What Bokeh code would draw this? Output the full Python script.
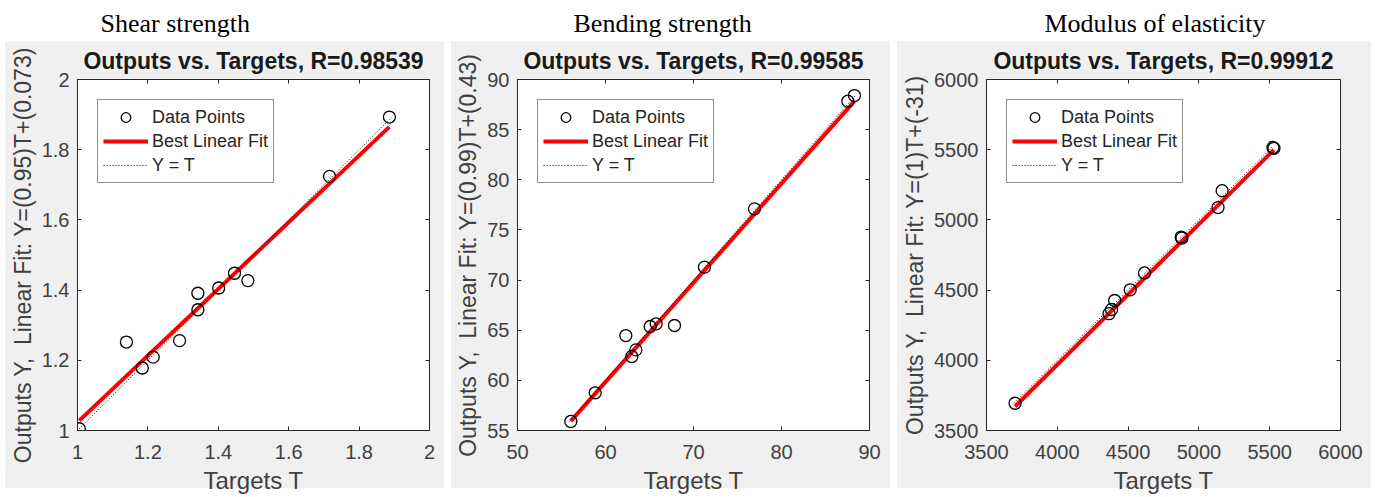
from bokeh.plotting import figure
from bokeh.models import Range1d, FixedTicker, LinearAxis, Legend, LegendItem, Spacer, Title
from bokeh.layouts import row
from bokeh.embed import file_html
from bokeh.resources import INLINE

# ---------------- data ----------------
panel_names = ["Shear strength", "Bending strength", "Modulus of elasticity"]
r_values = ["0.98539", "0.99585", "0.99912"]
fit_labels = ["Y=(0.95)T+(0.073)", "Y=(0.99)T+(0.43)", "Y=(1)T+(-31)"]
x_label = "Targets T"

shear_t = [1.005, 1.139, 1.184, 1.215, 1.290, 1.342, 1.342, 1.401, 1.446, 1.484, 1.716, 1.886]
shear_y = [1.005, 1.252, 1.178, 1.209, 1.256, 1.391, 1.344, 1.406, 1.448, 1.427, 1.724, 1.893]
shear_fit_t = [1.005, 1.886]
shear_fit_y = [1.028, 1.865]
shear_ticks = [1.0, 1.2, 1.4, 1.6, 1.8, 2.0]
shear_tick_labels = ["1", "1.2", "1.4", "1.6", "1.8", "2"]

bend_t = [56.06, 58.83, 62.31, 62.99, 63.45, 65.08, 65.76, 67.84, 71.25, 76.93, 87.54, 88.29]
bend_y = [55.90, 58.76, 64.47, 62.38, 63.04, 65.37, 65.64, 65.47, 71.29, 77.10, 87.84, 88.40]
bend_fit_t = [56.06, 88.29]
bend_fit_y = [55.93, 87.84]
bend_xticks = [50, 60, 70, 80, 90]
bend_xtick_labels = ["50", "60", "70", "80", "90"]
bend_yticks = [55, 60, 65, 70, 75, 80, 85, 90]
bend_ytick_labels = ["55", "60", "65", "70", "75", "80", "85", "90"]

moe_t = [3702, 4365, 4383, 4405, 4515, 4616, 4875, 4880, 5135, 5164, 5523, 5530]
moe_y = [3694, 4332, 4362, 4426, 4502, 4622, 4878, 4870, 5088, 5208, 5516, 5510]
moe_fit_t = [3702, 5530]
moe_fit_y = [3671, 5499]
moe_ticks = [3500, 4000, 4500, 5000, 5500, 6000]
moe_tick_labels = ["3500", "4000", "4500", "5000", "5500", "6000"]

AX = "#262626"
SANS = "Liberation Sans"
BG = ("linear-gradient(to bottom, #ffffff 0px, #ffffff 41px, #f0f0f0 41px, "
      "#f0f0f0 488px, #ffffff 488px, #ffffff 497px)")


def make_panel(w, borders, name_offset, xr, yr, xticks, xlabels, yticks, ylabels,
               t, y, fit_t, fit_y, name, r, fit_label):
    left, right, top, bottom = borders
    p = figure(width=w, height=497, x_range=Range1d(*xr), y_range=Range1d(*yr),
               output_backend="svg", toolbar_location=None, tools="",
               min_border_left=left, min_border_right=right,
               min_border_top=top, min_border_bottom=bottom,
               background_fill_color="white", border_fill_color=None,
               outline_line_color=AX, outline_line_width=1)
    p.styles = {"background": BG}
    p.grid.visible = False

    xa = p.xaxis[0]
    xa.ticker = FixedTicker(ticks=xticks)
    xa.major_label_overrides = {float(k): v for k, v in zip(xticks, xlabels)}
    xa.axis_label = x_label
    ya = p.yaxis[0]
    ya.ticker = FixedTicker(ticks=yticks)
    ya.major_label_overrides = {float(k): v for k, v in zip(yticks, ylabels)}
    ya.axis_label = "Outputs Y,\u00a0 Linear Fit: " + fit_label
    for a in (xa, ya):
        a.minor_tick_line_color = None
        a.major_tick_in = 4
        a.major_tick_out = 0
        a.axis_line_color = AX
        a.major_tick_line_color = AX
        a.major_label_text_font = SANS
        a.major_label_text_font_size = "20px"
        a.major_label_text_color = "#404040"
        a.axis_label_text_font = SANS
        a.axis_label_text_font_style = "normal"
        a.axis_label_text_color = "#404040"
    xa.axis_label_text_font_size = "24px"
    ya.axis_label_text_font_size = "23px"
    xa.major_label_standoff = 14
    xa.axis_label_standoff = 5
    ya.major_label_standoff = 8
    ya.axis_label_standoff = 3

    for side, tk in (("right", yticks), ("above", xticks)):
        ax = LinearAxis(ticker=FixedTicker(ticks=tk), major_label_text_font_size="0px",
                        major_tick_in=4, major_tick_out=0, minor_tick_line_color=None,
                        axis_line_color=AX, major_tick_line_color=AX,
                        major_label_standoff=0)
        ax.major_label_overrides = {float(k): "" for k in tk}
        p.add_layout(ax, side)

    p.add_layout(Title(text="Outputs vs. Targets, R=" + r, align="center",
                       text_font=SANS, text_font_size="23px", text_font_style="bold",
                       text_color="#1a1a1a", standoff=11), "above")
    p.add_layout(Title(text=name, align="left", offset=name_offset,
                       text_font="Liberation Serif", text_font_size="26px",
                       text_font_style="normal", text_color="black", standoff=5), "above")

    fit = p.line(fit_t, fit_y, line_color="#ff0000", line_width=4)
    lo = min(min(t), min(y))
    hi = max(max(t), max(y))
    ident = p.line([lo, hi], [lo, hi], line_color="black", line_width=1, line_dash="1 2")
    pts = p.scatter(t, y, marker="circle", size=12, fill_color=None,
                    line_color="black", line_width=1.3)

    legend = Legend(items=[LegendItem(label="Data Points", renderers=[pts]),
                           LegendItem(label="Best Linear Fit", renderers=[fit]),
                           LegendItem(label="Y = T", renderers=[ident])],
                    location="top_left", margin=20, padding=5, spacing=0,
                    glyph_width=45, glyph_height=24, label_height=24, label_standoff=4,
                    label_text_font=SANS, label_text_font_size="18px",
                    label_text_color="#262626",
                    border_line_color=AX, border_line_width=1,
                    background_fill_color="white", background_fill_alpha=1)
    p.add_layout(legend)
    return p


p1 = make_panel(439, (72, 15, 79, 67), 23, (1, 2), (1, 2),
                shear_ticks, shear_tick_labels, shear_ticks, shear_tick_labels,
                shear_t, shear_y, shear_fit_t, shear_fit_y,
                panel_names[0], r_values[0], fit_labels[0])
p2 = make_panel(439, (66, 21, 79, 67), 56, (50, 90), (55, 90),
                bend_xticks, bend_xtick_labels, bend_yticks, bend_ytick_labels,
                bend_t, bend_y, bend_fit_t, bend_fit_y,
                panel_names[1], r_values[1], fit_labels[1])
p3 = make_panel(474, (89, 31, 77, 67), 58, (3500, 6000), (3500, 6000),
                moe_ticks, moe_tick_labels, moe_ticks, moe_tick_labels,
                moe_t, moe_y, moe_fit_t, moe_fit_y,
                panel_names[2], r_values[2], fit_labels[2])

layout = row(Spacer(width=5, height=497), p1, Spacer(width=7, height=497), p2,
             Spacer(width=7, height=497), p3, spacing=0)

open("out.html", "w").write(file_html(layout, INLINE))
